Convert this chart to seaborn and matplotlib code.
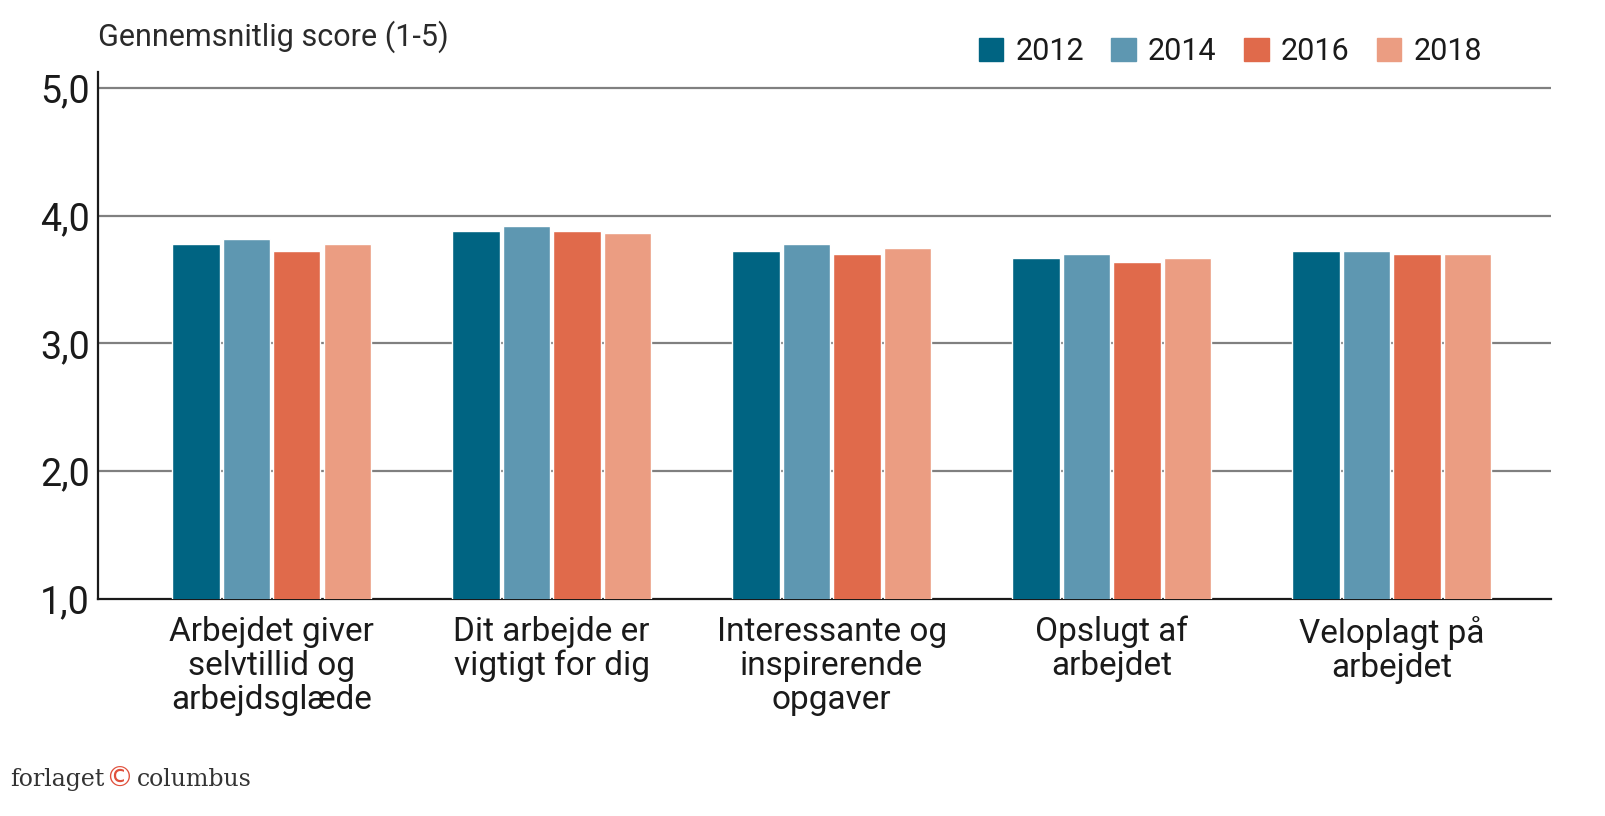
import pandas as pd
import matplotlib.pyplot as plt
import seaborn as sns

# Data
categories = ['Arbejdet giver\nselvtillid og\narbejdsglæde',
              'Dit arbejde er\nvigtigt for dig',
              'Interessante og\ninspirerende\nopgaver',
              'Opslugt af\narbejdet',
              'Veloplagt på\narbejdet']
years = ['2012', '2014', '2016', '2018']
scores_2012 = [3.78, 3.88, 3.72, 3.67, 3.72]
scores_2014 = [3.82, 3.92, 3.78, 3.70, 3.72]
scores_2016 = [3.72, 3.88, 3.70, 3.64, 3.70]
scores_2018 = [3.78, 3.86, 3.75, 3.67, 3.70]
y_ticks = [1, 2, 3, 4, 5]
y_tick_labels = ['1,0', '2,0', '3,0', '4,0', '5,0']

colors = ['#006482', '#5E97B1', '#E06A4B', '#EB9D82']

# Long format for seaborn
rows = []
for year, vals in zip(years, [scores_2012, scores_2014, scores_2016, scores_2018]):
    for cat, v in zip(categories, vals):
        rows.append({'Kategori': cat, 'År': year, 'Score': v})
df = pd.DataFrame(rows)

sns.set_style('white')
plt.rcParams['font.family'] = ['Roboto', 'DejaVu Sans']

fig = plt.figure(figsize=(16.06, 8.16), dpi=100)
ax = fig.add_axes([0.061, 0.266, 0.905, 0.646])

sns.barplot(data=df, x='Kategori', y='Score', hue='År', palette=colors,
            saturation=1, width=0.72, gap=0.06, ax=ax, legend=False, zorder=3)

ax.set_ylim(1, 5.125)
ax.set_xlim(-0.62, 4.57)
ax.set_yticks(y_ticks)
ax.set_yticklabels(y_tick_labels)
for y in y_ticks[1:]:
    ax.axhline(y, color='#808080', linewidth=1.6, zorder=1)

ax.set_xlabel('')
ax.set_ylabel('')
ax.tick_params(axis='y', length=0, pad=6, labelsize=27, labelcolor='#1a1a1a')
ax.tick_params(axis='x', length=0, pad=12, labelsize=24, labelcolor='#1a1a1a')
for lab in ax.get_xticklabels():
    lab.set_linespacing(1.08)
    lab.set_verticalalignment('top')

for side in ['top', 'right']:
    ax.spines[side].set_visible(False)
for side in ['left', 'bottom']:
    ax.spines[side].set_color('#1a1a1a')
    ax.spines[side].set_linewidth(1.6)

# Title / unit label
fig.text(0.061, 0.955, 'Gennemsnitlig score (1-5)', fontsize=22, color='#2a2a2a',
         ha='left', va='center')

# Legend
handles = [plt.Rectangle((0, 0), 1, 1, color=c) for c in colors]
fig.legend(handles, years, loc='center right', bbox_to_anchor=(0.94, 0.937),
           ncol=4, frameon=False, handlelength=0.8, handleheight=0.8,
           handletextpad=0.4, columnspacing=0.9, labelcolor='#1a1a1a',
           prop={'size': 22})

# Publisher footer
fig.text(0.006, 0.045, 'forlaget', fontsize=17, family='DejaVu Serif', color='#333333',
         ha='left', va='center')
fig.text(0.0655, 0.045, '©', fontsize=20, family='DejaVu Sans', color='#E0503C',
         ha='left', va='center')
fig.text(0.085, 0.045, 'columbus', fontsize=17, family='DejaVu Serif', color='#333333',
         ha='left', va='center')

fig.savefig('out.png', dpi=100)
